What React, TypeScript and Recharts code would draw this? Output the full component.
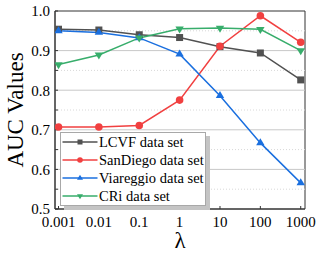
import React from 'react';
import { LineChart, Line, XAxis, YAxis, ReferenceLine, ReferenceArea, Legend } from 'recharts';

// values
const lambdas = [0.001, 0.01, 0.1, 1, 10, 100, 1000];
const lcvf = [0.954, 0.952, 0.94, 0.933, 0.91, 0.894, 0.826];
const sanDiego = [0.707, 0.707, 0.711, 0.775, 0.911, 0.988, 0.921];
const viareggio = [0.95, 0.946, 0.932, 0.891, 0.786, 0.667, 0.566];
const cri = [0.865, 0.889, 0.932, 0.955, 0.957, 0.954, 0.9];

const yTicks = [0.5, 0.55, 0.6, 0.65, 0.7, 0.75, 0.8, 0.85, 0.9, 0.95, 1.0];
const majorGrid = [0.6, 0.7, 0.8, 0.9];
const minorGrid = [0.55, 0.65, 0.75, 0.85, 0.95];

const X_MIN = 0.000819;
const X_MAX = 1276;
const FONT = '"Liberation Serif", "Times New Roman", serif';

const series = [
  { key: 'lcvf', name: 'LCVF data set', values: lcvf, color: '#515151', shape: 'square' },
  { key: 'sanDiego', name: 'SanDiego data set', values: sanDiego, color: '#F14040', shape: 'circle' },
  { key: 'viareggio', name: 'Viareggio data set', values: viareggio, color: '#1A6FDF', shape: 'up' },
  { key: 'cri', name: 'CRi data set', values: cri, color: '#37AD6B', shape: 'down' },
];

const data = lambdas.map((l, i) => {
  const row: any = { lambda: l };
  series.forEach((s) => (row[s.key] = s.values[i]));
  return row;
});

function Marker({ cx, cy, shape, color, s }: any) {
  if (cx == null || cy == null) return null;
  if (shape === 'square') return <rect x={cx - s / 2} y={cy - s / 2} width={s} height={s} fill={color} />;
  if (shape === 'circle') return <circle cx={cx} cy={cy} r={s / 2 + 0.3} fill={color} />;
  const w = s * 1.2;
  const h = s;
  const pts =
    shape === 'up'
      ? `${cx},${cy - (h * 2) / 3} ${cx - w / 2},${cy + h / 3} ${cx + w / 2},${cy + h / 3}`
      : `${cx},${cy + (h * 2) / 3} ${cx - w / 2},${cy - h / 3} ${cx + w / 2},${cy - h / 3}`;
  return <polygon points={pts} fill={color} />;
}

const LegendBox = () => (
  <div
    style={{
      background: '#fff',
      border: '1px solid #a8a8a8',
      boxShadow: '4px 4px 0 #c4c4c4',
      width: 144,
      fontFamily: FONT,
      fontSize: 14.5,
      color: '#000',
    }}
  >
    {series.map((s) => (
      <div key={s.key} style={{ display: 'flex', alignItems: 'center', height: 18 }}>
        <svg width={38} height={18} style={{ flexShrink: 0 }}>
          <line x1={1.5} x2={36.5} y1={9} y2={9} stroke={s.color} strokeWidth={1.5} />
          <Marker cx={19} cy={9} shape={s.shape} color={s.color} s={5} />
        </svg>
        <span style={{ whiteSpace: 'nowrap', lineHeight: '18px' }}>{s.name}</span>
      </div>
    ))}
  </div>
);

const App: React.FC = () => {
  const tickStyle = { fill: '#000', fontSize: 15, fontFamily: FONT };
  return (
    <div style={{ position: 'absolute', left: 0, top: 0 }}>
      <LineChart width={319} height={256} data={data} margin={{ top: 11, right: 14, left: 0, bottom: 0 }}>
        {majorGrid.map((v) => (
          <ReferenceLine key={`M${v}`} y={v} stroke="#c8c8c8" strokeWidth={1} />
        ))}
        {minorGrid.map((v) => (
          <ReferenceLine key={`m${v}`} y={v} stroke="#d8d8d8" strokeWidth={1} strokeDasharray="1 2" />
        ))}
        <XAxis
          dataKey="lambda"
          type="number"
          scale="log"
          domain={[X_MIN, X_MAX]}
          ticks={lambdas}
          allowDataOverflow
          tickFormatter={(v: number) => String(v)}
          tick={tickStyle}
          tickSize={-3}
          tickMargin={10}
          height={47}
          axisLine={{ stroke: '#333' }}
          tickLine={{ stroke: '#333' }}
          label={{ value: 'λ', position: 'insideBottom', offset: 8, fill: '#000', fontSize: 23, fontFamily: FONT }}
        />
        <YAxis
          type="number"
          domain={[0.5, 1.0]}
          ticks={yTicks}
          interval={0}
          tickFormatter={(v: number) => (Math.round(v * 100) % 10 === 0 ? v.toFixed(1) : '')}
          tick={tickStyle}
          tickSize={-3}
          tickMargin={8}
          width={55}
          axisLine={{ stroke: '#333' }}
          tickLine={{ stroke: '#333' }}
          label={{
            value: 'AUC Values',
            angle: -90,
            position: 'insideLeft',
            offset: 14.5,
            fill: '#000',
            fontSize: 23,
            fontFamily: FONT,
            style: { textAnchor: 'middle' },
          }}
        />
        <ReferenceArea x1={X_MIN} x2={X_MAX} y1={0.5} y2={1.0} fill="none" stroke="#333" strokeWidth={1} ifOverflow="visible" />
        {series.map((s) => (
          <Line
            key={s.key}
            dataKey={s.key}
            name={s.name}
            stroke={s.color}
            strokeWidth={1.5}
            isAnimationActive={false}
            dot={(p: any) => <Marker key={`${s.key}-${p.index}`} cx={p.cx} cy={p.cy} shape={s.shape} color={s.color} s={7} />}
            activeDot={false}
          />
        ))}
        <Legend
          layout="vertical"
          align="center"
          verticalAlign="middle"
          content={() => <LegendBox />}
          wrapperStyle={{ position: 'absolute', left: 60, top: 132, width: 'auto' }}
        />
      </LineChart>
    </div>
  );
};

export default App;
